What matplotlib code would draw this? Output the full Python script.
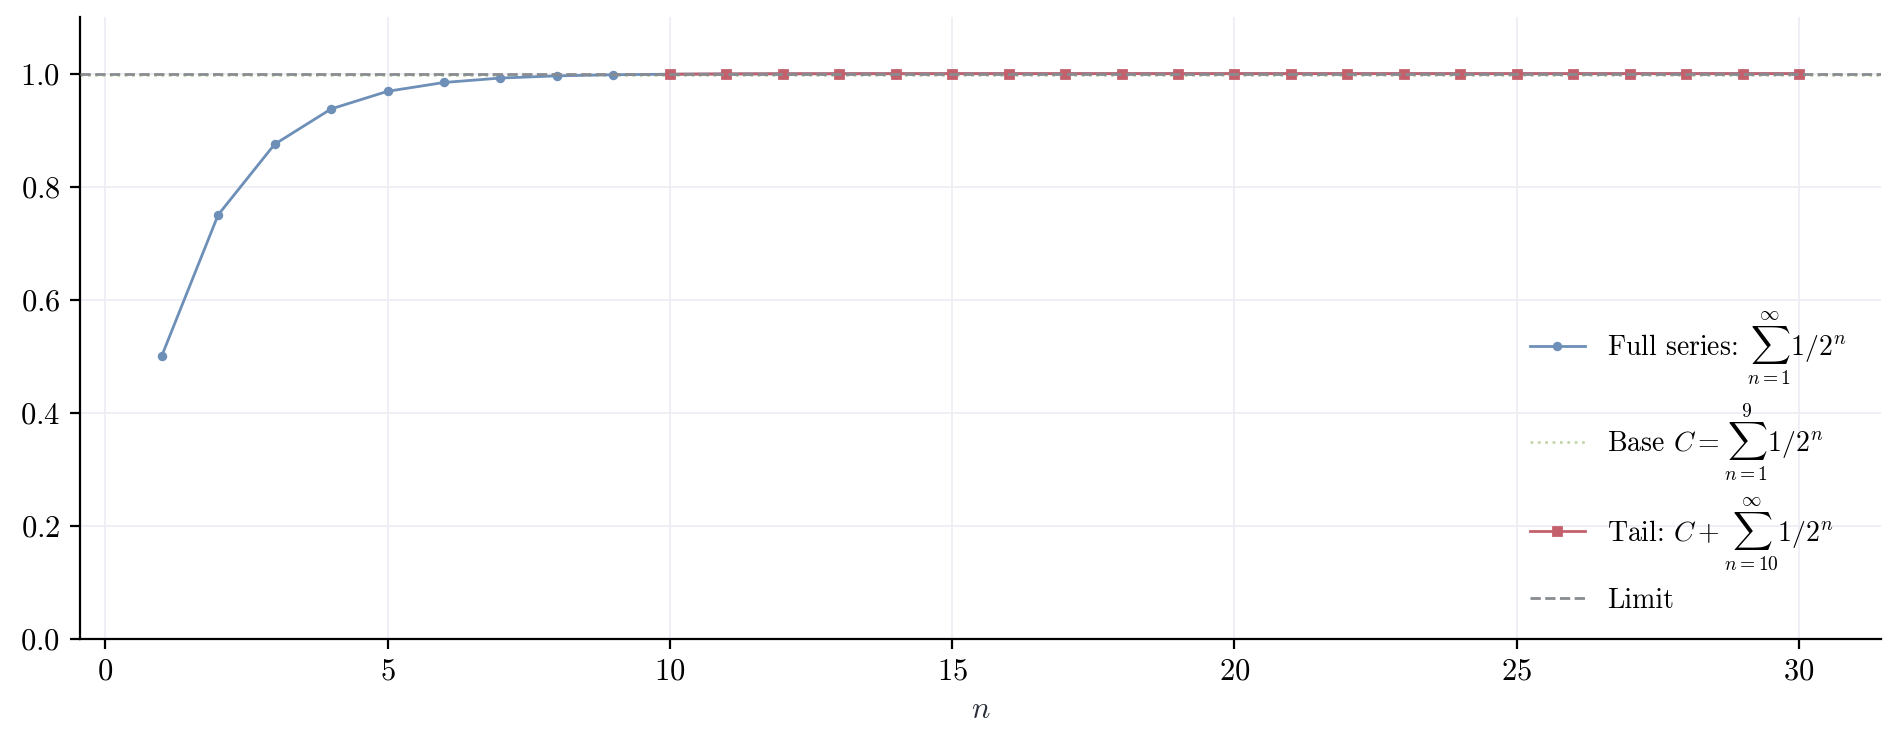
import numpy as np
import matplotlib
matplotlib.use("Agg")
import matplotlib.pyplot as plt

plt.rcParams['font.family'] = 'serif'
plt.rcParams['font.serif'] = ['cmr10', 'DejaVu Serif']
plt.rcParams['mathtext.fontset'] = 'cm'
plt.rcParams['axes.formatter.use_mathtext'] = True

# partial sums of 1/2^n
n_full = [1, 2, 3, 4, 5, 6, 7, 8, 9, 10, 11, 12, 13, 14, 15,
          16, 17, 18, 19, 20, 21, 22, 23, 24, 25, 26, 27, 28, 29, 30]
s_full = [0.5, 0.75, 0.875, 0.9375, 0.96875, 0.984375, 0.9921875,
          0.99609375, 0.998046875, 0.9990234, 0.9995117, 0.9997559,
          0.9998779, 0.9999390, 0.9999695, 0.9999847, 0.9999924,
          0.9999962, 0.9999981, 0.9999990, 0.9999995, 0.9999998,
          0.9999999, 0.9999999, 1.0, 1.0, 1.0, 1.0, 1.0, 1.0]
n_tail = n_full[9:]
s_tail = s_full[9:]
base_c = 0.998046875
limit = 1.0

fig, ax = plt.subplots(figsize=(9.5, 3.73), dpi=200)

ax.plot(n_full, s_full, color='#6d8fb8', lw=1.0, marker='o', ms=2.4,
        label=r'Full series: $\sum_{n=1}^{\infty} 1/2^n$', zorder=3)
ax.axhline(base_c, color='#b7cc9a', lw=1.0, ls=':', alpha=0.8,
           label=r'Base $C = \sum_{n=1}^{9} 1/2^n$', zorder=2)
ax.plot(n_tail, s_tail, color='#c4606b', lw=1.0, marker='s', ms=2.6,
        label=r'Tail: $C + \sum_{n=10}^{\infty} 1/2^n$', zorder=4)
ax.axhline(limit, color='#888b90', lw=1.0, ls='--', label='Limit', zorder=5)

ax.set_ylim(0, 1.1)
ax.set_xlabel(r'$n$', color='#2b2f3a', fontsize=11)
ax.grid(True, color='#eceef4', lw=0.6)
ax.set_axisbelow(True)
ax.spines['top'].set_visible(False)
ax.spines['right'].set_visible(False)
ax.tick_params(labelsize=11)

ax.legend(loc='lower right', frameon=False, fontsize=10, labelspacing=0.5,
          bbox_to_anchor=(0.995, 0.0))

fig.subplots_adjust(left=0.042, right=0.99, top=0.977, bottom=0.144)
fig.savefig('out.png', dpi=200)
